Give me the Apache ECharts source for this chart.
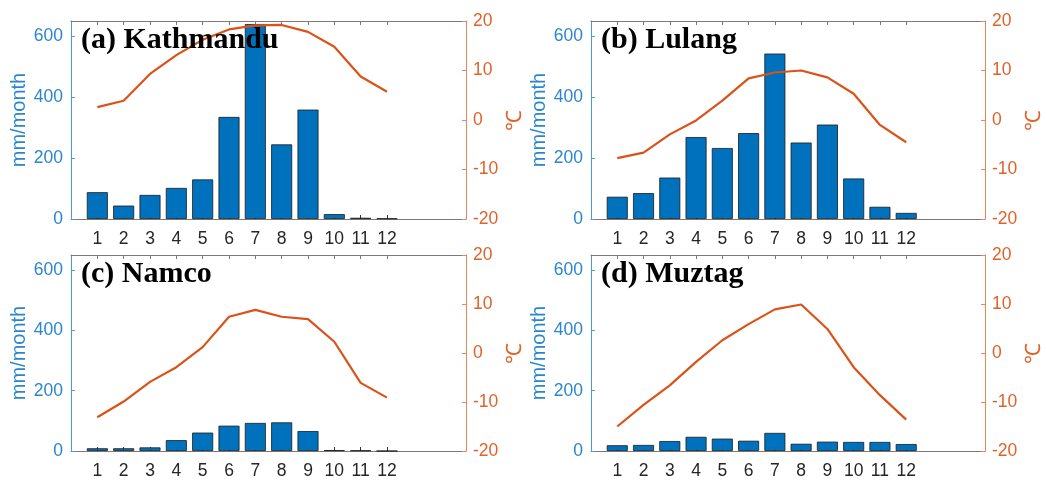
<!DOCTYPE html>
<html>
<head>
<meta charset="utf-8">
<script src="https://cdn.jsdelivr.net/npm/echarts@6/dist/echarts.min.js"></script>
<style>
  html, body { margin: 0; padding: 0; background: #fff; }
  #chart { width: 1046px; height: 480px; }
</style>
</head>
<body>
<div id="chart"></div>
<script>
// months shown on the x axis (axis runs 0..15, months sit at 1..12)
const months = ['1', '2', '3', '4', '5', '6', '7', '8', '9', '10', '11', '12']
const stations = ['(a) Kathmandu', '(b) Lulang', '(c) Namco', '(d) Muztag']

// precipitation, mm/month
const precipKathmandu = [88, 44, 79, 102, 130, 335, 640, 245, 359, 16, 4, 2]
const precipLulang = [73, 85, 136, 269, 233, 282, 543, 251, 310, 133, 40, 20]
const precipNamco = [9, 9, 12, 36, 61, 84, 93, 95, 66, 3, 2, 0]
const precipMuztag = [19, 20, 33, 47, 41, 34, 60, 24, 31, 30, 30, 23]

// air temperature, degC
const tempKathmandu = [2.6, 3.9, 9.3, 13.1, 16.2, 18.3, 19.1, 19.2, 17.8, 14.8, 8.8, 5.7]
const tempLulang = [-7.7, -6.6, -2.9, -0.1, 3.9, 8.4, 9.6, 10.0, 8.6, 5.3, -1.0, -4.5]
const tempNamco = [-13.1, -9.9, -5.9, -2.9, 1.2, 7.4, 8.8, 7.4, 6.9, 2.3, -6.1, -9.1]
const tempMuztag = [-15.0, -10.6, -6.6, -1.8, 2.6, 5.9, 8.9, 9.9, 4.9, -2.9, -8.6, -13.6]

const precip = [precipKathmandu, precipLulang, precipNamco, precipMuztag]
const temp = [tempKathmandu, tempLulang, tempNamco, tempMuztag]

const xCats = [''].concat(months, ['', '', ''])
const pad = arr => [null].concat(arr)

const BLUE = '#0072BD'
const BLUE_TXT = '#2A86CF'
const ORANGE = '#D95319'
const ORANGE_TXT = '#E0622A'
const GRAY = '#7a7a7a'
const FONT = 'Liberation Sans'

const gridPos = [
  {left: 71, top: 21},
  {left: 591, top: 21},
  {left: 71, top: 255},
  {left: 591, top: 255}
]

const grids = []
const xAxes = []
const yAxes = []
const series = []
const titles = []

gridPos.forEach((g, i) => {
  grids.push({left: g.left, top: g.top, width: 395, height: 198})
  const tickOnMonths = (idx, val) => val !== ''
  xAxes.push({
    type: 'category', gridIndex: i, position: 'bottom', data: xCats, boundaryGap: false,
    axisLine: {onZero: false, lineStyle: {color: GRAY, width: 1}},
    axisTick: {inside: true, length: 4, interval: tickOnMonths, lineStyle: {color: '#333'}},
    axisLabel: {interval: 0, margin: 11, color: '#262626', fontSize: 17.5, fontFamily: FONT},
    splitLine: {show: false}
  })
  xAxes.push({
    type: 'category', gridIndex: i, position: 'top', data: xCats, boundaryGap: false,
    axisLine: {onZero: false, lineStyle: {color: GRAY, width: 1}},
    axisTick: {inside: true, length: 4, interval: tickOnMonths, lineStyle: {color: GRAY}},
    axisLabel: {show: false},
    splitLine: {show: false}
  })
  yAxes.push({
    type: 'value', gridIndex: i, position: 'left', min: 0, max: 650, interval: 200,
    name: 'mm/month', nameLocation: 'middle', nameRotate: 90, nameGap: 42,
    nameTextStyle: {color: BLUE_TXT, fontSize: 20, fontFamily: FONT},
    axisLine: {show: true, lineStyle: {color: '#4d9ad6', width: 1}},
    axisTick: {show: true, inside: true, length: 4, lineStyle: {color: '#4d9ad6'}},
    axisLabel: {color: BLUE_TXT, fontSize: 17.5, fontFamily: FONT, margin: 8, showMaxLabel: false},
    splitLine: {show: false}
  })
  yAxes.push({
    type: 'value', gridIndex: i, position: 'right', min: -20, max: 20, interval: 10,
    name: '℃', nameLocation: 'middle', nameRotate: 90, nameGap: 39,
    nameTextStyle: {color: ORANGE_TXT, fontSize: 21, fontFamily: FONT},
    axisLine: {show: true, lineStyle: {color: '#e8875c', width: 1}},
    axisTick: {show: true, inside: true, length: 4, lineStyle: {color: '#e8875c'}},
    axisLabel: {color: ORANGE_TXT, fontSize: 17.5, fontFamily: FONT, margin: 7},
    splitLine: {show: false}
  })
  series.push({
    type: 'bar', xAxisIndex: 2 * i, yAxisIndex: 2 * i, data: pad(precip[i]),
    barWidth: 21, itemStyle: {color: BLUE, borderColor: '#1a1a1a', borderWidth: 0.8},
    silent: true, z: 2
  })
  series.push({
    type: 'line', xAxisIndex: 2 * i, yAxisIndex: 2 * i + 1, data: pad(temp[i]),
    symbol: 'none', lineStyle: {color: ORANGE, width: 2.2}, silent: true, z: 3
  })
  titles.push({
    text: stations[i], left: g.left + 10, top: g.top + 4, padding: 0,
    textStyle: {fontFamily: 'Liberation Serif', fontWeight: 'bold', fontSize: 30, color: '#000'}
  })
})

const chart = echarts.init(document.getElementById('chart'))
chart.setOption({
  animation: false,
  title: titles,
  grid: grids,
  xAxis: xAxes,
  yAxis: yAxes,
  series: series
})
</script>
</body>
</html>
